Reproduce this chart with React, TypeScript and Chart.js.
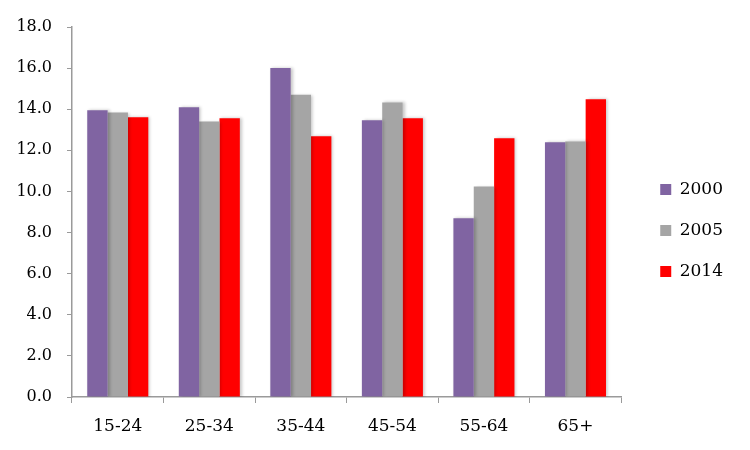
import { useEffect, useRef } from "react"
import { Chart, registerables } from "chart.js"

Chart.register(...registerables)

const ageGroups = ["15-24", "25-34", "35-44", "45-54", "55-64", "65+"]
const values2000 = [13.95, 14.1, 16.0, 13.46, 8.7, 12.39]
const values2005 = [13.84, 13.4, 14.71, 14.33, 10.24, 12.43]
const values2014 = [13.61, 13.56, 12.69, 13.56, 12.59, 14.49]

const axisGrey = "#9a9a9a"
const serif = "'DejaVu Serif', serif"

// soft drop shadow under the bars, like the office chart
const barShadow = {
  id: "barShadow",
  beforeDatasetsDraw(chart: Chart) {
    const ctx = chart.ctx
    ctx.save()
    ctx.shadowColor = "rgba(0, 0, 0, 0.22)"
    ctx.shadowBlur = 3
    ctx.shadowOffsetX = 2
    ctx.shadowOffsetY = 0
  },
  afterDatasetsDraw(chart: Chart) {
    chart.ctx.restore()
  },
}

export default function App() {
  const chartRef = useRef<HTMLCanvasElement>(null)
  const chartInstance = useRef<Chart | null>(null)

  useEffect(() => {
    if (!chartRef.current) return
    if (chartInstance.current) chartInstance.current.destroy()

    const ctx = chartRef.current.getContext("2d")
    if (!ctx) return

    chartInstance.current = new Chart(ctx, {
      type: "bar",
      data: {
        labels: ageGroups,
        datasets: [
          { label: "2000", data: values2000, backgroundColor: "#8064A2" },
          { label: "2005", data: values2005, backgroundColor: "#A5A5A5" },
          { label: "2014", data: values2014, backgroundColor: "#FF0000" },
        ],
      },
      options: {
        responsive: true,
        maintainAspectRatio: false,
        animation: false,
        layout: {
          padding: { top: 27, right: 17, bottom: 16, left: 0 },
        },
        datasets: {
          bar: {
            categoryPercentage: 0.667,
            barPercentage: 1.0,
          },
        },
        scales: {
          x: {
            grid: {
              display: true,
              drawOnChartArea: false,
              drawTicks: true,
              tickLength: 6,
              color: axisGrey,
            },
            border: { color: axisGrey, width: 1.5 },
            ticks: {
              color: "#000",
              padding: 13,
              font: { family: serif, size: 17 },
            },
            afterFit: (scale: any) => {
              scale.height = 37
            },
          },
          y: {
            min: 0,
            max: 18,
            grid: {
              display: true,
              drawOnChartArea: false,
              drawTicks: true,
              tickLength: 5,
              color: axisGrey,
            },
            border: { color: axisGrey, width: 1.5 },
            ticks: {
              stepSize: 2,
              color: "#000",
              padding: 15,
              font: { family: serif, size: 16 },
              callback: (v: any) => Number(v).toFixed(1),
            },
            afterFit: (scale: any) => {
              scale.width = 72
            },
          },
          // empty spacer between the plot and the legend
          gap: {
            type: "linear",
            position: "right",
            display: true,
            grid: { display: false },
            border: { display: false },
            ticks: { display: false },
            afterFit: (scale: any) => {
              scale.width = 15
            },
          },
        },
        plugins: {
          legend: {
            position: "right",
            labels: {
              boxWidth: 11,
              boxHeight: 11,
              padding: 24,
              color: "#000",
              font: { family: serif, size: 17 },
            },
          },
          tooltip: { enabled: false },
        },
      },
      plugins: [barShadow],
    })

    return () => {
      if (chartInstance.current) {
        chartInstance.current.destroy()
        chartInstance.current = null
      }
    }
  }, [])

  return (
    <div style={{ position: "fixed", left: 0, top: 0, width: 750, height: 450, background: "#fff" }}>
      <canvas ref={chartRef}></canvas>
    </div>
  )
}
